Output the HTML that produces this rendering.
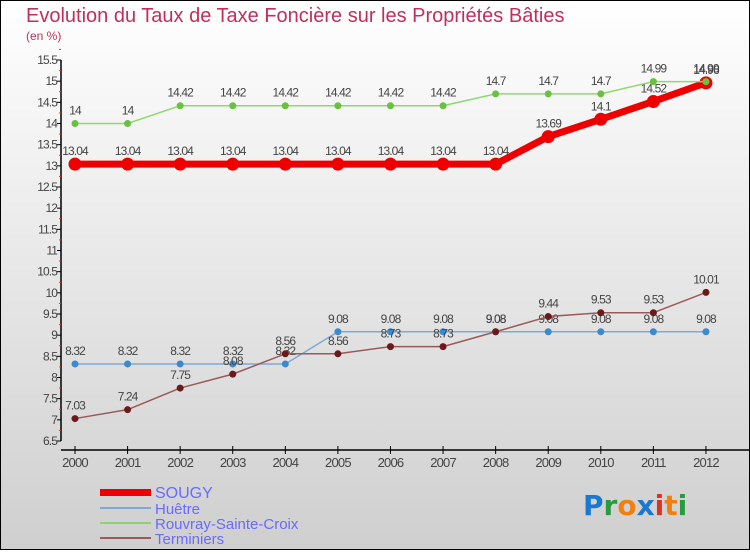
<!DOCTYPE html>
<html><head><meta charset="utf-8"><style>
html,body{margin:0;padding:0}
body{width:750px;height:550px;overflow:hidden;font-family:"Liberation Sans",sans-serif}
</style></head><body>
<svg id="chart" width="750" height="550" xmlns="http://www.w3.org/2000/svg">
<defs><linearGradient id="bg" x1="0" y1="0" x2="0" y2="1"><stop offset="0" stop-color="#ffffff"/><stop offset="1" stop-color="#cfcfcf"/></linearGradient></defs>
<rect x="0.5" y="0.5" width="749" height="549" fill="url(#bg)" stroke="#000"/>
<text x="26" y="22" font-size="20" fill="#c0305a">Evolution du Taux de Taxe Foncière sur les Propriétés Bâties</text>
<text x="26" y="40" font-size="12" fill="#c0305a">(en %)</text>
<g id="axes"></g><g id="series"></g>
<g>
<rect x="100" y="489" width="51" height="7" fill="#e00"/>
<text x="155" y="498" font-size="16" fill="#6a6aff">SOUGY</text>
<rect x="100" y="507" width="51" height="2" fill="#7fa9d0"/>
<text x="155" y="514" font-size="15" fill="#6a6aff">Huêtre</text>
<rect x="100" y="522" width="51" height="2" fill="#8fd070"/>
<text x="155" y="529" font-size="15" fill="#6a6aff">Rouvray-Sainte-Croix</text>
<rect x="100" y="537" width="51" height="2" fill="#9a5a5a"/>
<text x="155" y="544" font-size="15" fill="#6a6aff">Terminiers</text>
</g>
<text x="583" y="515" font-size="28" font-weight="bold" font-family="'DejaVu Sans',sans-serif"><tspan fill="#1a78d0">P</tspan><tspan fill="#2a9a40">r</tspan><tspan fill="#f08010">o</tspan><tspan fill="#1a78d0">x</tspan><tspan fill="#e03020">i</tspan><tspan fill="#f08010">t</tspan><tspan fill="#2a9a40">i</tspan></text>
</svg>
<script>
const years=["2000","2001","2002","2003","2004","2005","2006","2007","2008","2009","2010","2011","2012"];
const sougy=[13.04,13.04,13.04,13.04,13.04,13.04,13.04,13.04,13.04,13.69,14.1,14.52,14.96];
const huetre=[8.32,8.32,8.32,8.32,8.32,9.08,9.08,9.08,9.08,9.08,9.08,9.08,9.08];
const rouvray=[14,14,14.42,14.42,14.42,14.42,14.42,14.42,14.7,14.7,14.7,14.99,14.99];
const terminiers=[7.03,7.24,7.75,8.08,8.56,8.56,8.73,8.73,9.08,9.44,9.53,9.53,10.01];
const yTicks=[6.5,7,7.5,8,8.5,9,9.5,10,10.5,11,11.5,12,12.5,13,13.5,14,14.5,15,15.5];
const NS="http://www.w3.org/2000/svg";
const X=i=>75+i*52.58;
const Y=v=>441-(v-6.5)*(381/9);
function mk(t,a,p){const e=document.createElementNS(NS,t);for(const k in a)e.setAttribute(k,a[k]);p.appendChild(e);return e;}
const ax=document.getElementById('axes');
const yl=mk('line',{x1:61,y1:60,x2:61,y2:441,stroke:'#000','stroke-width':1.5},ax);


yTicks.forEach(v=>{
 mk('line',{x1:57,y1:Y(v),x2:61,y2:Y(v),stroke:'#000'},ax);
 mk('line',{x1:59,y1:Y(v+0.25),x2:61,y2:Y(v+0.25),stroke:'#e33'},ax);
 const t=mk('text',{x:57,y:Y(v)+4,'font-size':12,fill:'#444','text-anchor':'end','letter-spacing':'-0.9'},ax);
 t.textContent=String(v);
 
 
});
const xl=mk('line',{x1:61,y1:450,x2:750,y2:450,stroke:'#000','stroke-width':1.5},ax);


years.forEach((y,i)=>{
 mk('line',{x1:X(i),y1:446,x2:X(i),y2:454,stroke:'#000'},ax);
 const t=mk('text',{x:X(i),y:467,'font-size':13,fill:'#444','text-anchor':'middle','letter-spacing':'-0.8'},ax);
 t.textContent=y;
 
 
});
const sg=document.getElementById('series');
function draw(vals,name,color,w,r,dot){
 const g=mk('g',{},sg);
 
 
 const pl=mk('polyline',{points:vals.map((v,i)=>X(i)+','+Y(v)).join(' '),fill:'none',stroke:color,'stroke-width':w,'stroke-linejoin':'round'},g);
 
 
 vals.forEach((v,i)=>{
  const c=mk('circle',{cx:X(i),cy:Y(v),r:r,fill:dot},g);
  
  
  const t=mk('text',{x:X(i),y:Y(v)-9,'font-size':12,fill:'#444','text-anchor':'middle','letter-spacing':'-0.9'},g);
  t.textContent=String(v);
  
  
 });
}
draw(sougy,'sougy','#ee0000',7,6.5,'#e00');
draw(huetre,'huetre','#7fa9d0',1.5,3.5,'#3a8ad0');
draw(rouvray,'rouvray','#90d870',1.5,3.5,'#6ac040');
draw(terminiers,'terminiers','#9a5a5a',1.5,3.5,'#6a1a1a');
</script>
</body></html>
